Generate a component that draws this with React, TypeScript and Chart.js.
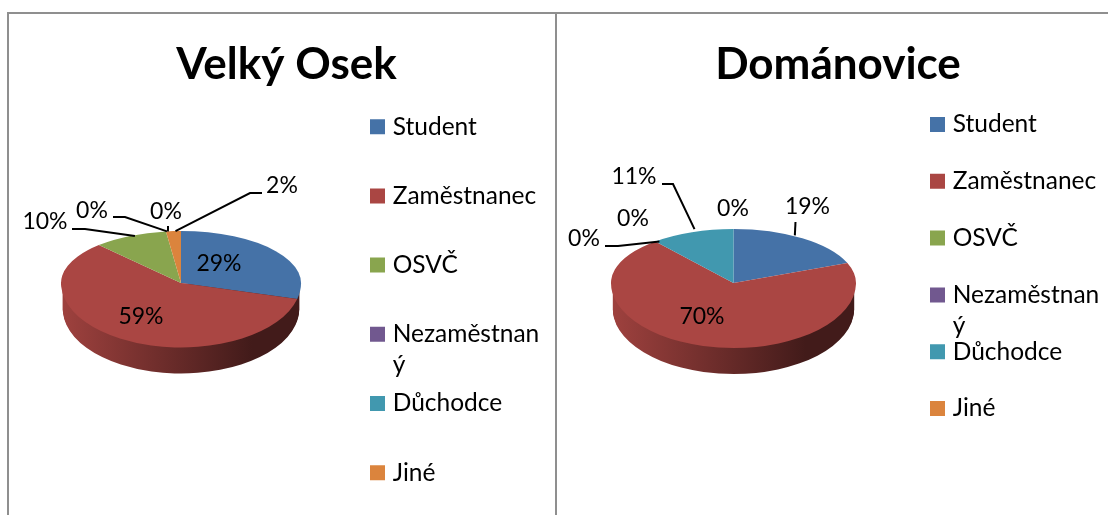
import React, { useEffect, useRef } from "react";
import { Chart, registerables } from "chart.js";

Chart.register(...registerables);

const categories = ["Student", "Zaměstnanec", "OSVČ", "Nezaměstnaný", "Důchodce", "Jiné"];
const velkyOsekValues = [29, 59, 10, 0, 0, 2];
const domanoviceValues = [19, 70, 0, 0, 11, 0];
const sliceColors = ["#4572A7", "#AA4643", "#89A54E", "#71588F", "#4198AF", "#DB843D"];

const FONT = "Lato, Carlito, sans-serif";
const LEGEND_SIZE = 24.5;
const LABEL_SIZE = 23;
const TITLE_SIZE = 44;
const TITLE_MIDDLE = 65;
const WRAP_AT = 11;
const BOX_SLOT = 6;

type Cfg = {
  title: string; values: number[]; canvasLeft: number; canvasWidth: number;
  titleCenter: number; cx: number; cy: number; R: number; upper: number; lower: number; depth: number;
  legendRectCenter: number; legendFirstRow: number; legendPitch: number;
  labels: { x: number; y: number; leader?: number[][]; endOffset?: number[] }[];
};

const panels: Cfg[] = [
  {
    title: "Velký Osek", values: velkyOsekValues, canvasLeft: 0, canvasWidth: 556,
    titleCenter: 286.5, cx: 181, cy: 283, R: 120, upper: 52, lower: 64.5, depth: 26,
    legendRectCenter: 377.5, legendFirstRow: 126.7, legendPitch: 69.2,
    labels: [
      { x: 219, y: 264 },
      { x: 141, y: 317 },
      { x: 45, y: 222, leader: [[72, 229], [85, 229]], endOffset: [5, 0] },
      { x: 92, y: 211, leader: [[113, 217], [125, 217]], endOffset: [1, 0] },
      { x: 166, y: 212, leader: [[168, 226]], endOffset: [2, 0] },
      { x: 282, y: 186, leader: [[262, 193], [250, 193]], endOffset: [2, 0] },
    ],
  },
  {
    title: "Dománovice", values: domanoviceValues, canvasLeft: 556, canvasWidth: 552,
    titleCenter: 282, cx: 177.5, cy: 283, R: 122.5, upper: 54, lower: 65, depth: 26,
    legendRectCenter: 381.5, legendFirstRow: 124.5, legendPitch: 56.8,
    labels: [
      { x: 251.5, y: 207, leader: [[239.5, 222]], endOffset: [-7.5, -3] },
      { x: 146, y: 317 },
      { x: 28, y: 239, leader: [[49, 246], [62, 246]], endOffset: [4, 0] },
      { x: 77, y: 219 },
      { x: 78, y: 177, leader: [[106, 184], [117, 184]], endOffset: [2.5, -3] },
      { x: 177, y: 209 },
    ],
  },
];

function hexShade(hex: string, f: number) {
  const n = parseInt(hex.slice(1), 16);
  const c = [(n >> 16) & 255, (n >> 8) & 255, n & 255].map((v) => Math.round(v * f));
  return `rgb(${c[0]},${c[1]},${c[2]})`;
}

function makePlugin(cfg: Cfg) {
  const { cx, cy, R, upper, lower, depth } = cfg;
  const project = (x: number, y: number) => [x, y < cy ? cy + (y - cy) * (upper / R) : cy + (y - cy) * (lower / R)];
  return {
    id: "tiltedPie",
    afterLayout(chart: any) {
      chart.chartArea = { left: cx - R, right: cx + R, top: cy - R, bottom: cy + R, width: 2 * R, height: 2 * R };
      const t = chart.titleBlock;
      if (t) {
        t.left = cfg.titleCenter - 250; t.right = cfg.titleCenter + 250;
        t.top = TITLE_MIDDLE - (TITLE_SIZE * 1.2) / 2; t.bottom = t.top + TITLE_SIZE * 1.2;
      }
      const l = chart.legend;
      if (l) {
        const pad = l.options.labels.padding;
        l.left = cfg.legendRectCenter - BOX_SLOT / 2 - pad;
        l.right = cfg.canvasWidth;
        l.top = cfg.legendFirstRow - LEGEND_SIZE / 2 - pad;
        l.bottom = 100000;
      }
    },
    beforeDatasetDraw(chart: any) {
      const ctx = chart.ctx;
      const arcs = chart.getDatasetMeta(0).data;
      const drawPart = (arc: any, k: number, dy: number, clipTop: boolean, sx = 1) => {
        ctx.save();
        ctx.beginPath();
        if (clipTop) ctx.rect(0, 0, cfg.canvasWidth, cy + 0.5);
        else ctx.rect(0, cy + dy, cfg.canvasWidth, 515);
        ctx.clip();
        ctx.translate(cx, cy + dy);
        ctx.scale(sx, k);
        ctx.translate(-cx, -cy);
        arc.draw(ctx);
        ctx.restore();
      };
      // side wall, from the library's own arcs; only the large red slice faces the viewer in both pies
      const wallBase = sliceColors[1];
      const g = ctx.createLinearGradient(cx - R, 0, cx + 0.6 * R, 0);
      g.addColorStop(0, hexShade(wallBase, 0.93));
      g.addColorStop(1, hexShade(wallBase, 0.39));
      for (let dy = depth; dy >= 1; dy--) {
        arcs.forEach((arc: any) => {
          if (!arc.circumference) return;
          const keep = arc.options;
          arc.options = { ...keep, backgroundColor: g };
          drawPart(arc, lower / R, dy, false, 0.985);
          arc.options = keep;
        });
      }
      // top face
      arcs.forEach((arc: any) => {
        if (!arc.circumference) return;
        drawPart(arc, upper / R, 0, true);
        drawPart(arc, lower / R, 0, false);
      });
      return false;
    },
    afterDatasetsDraw(chart: any) {
      const ctx = chart.ctx;
      const arcs = chart.getDatasetMeta(0).data;
      ctx.save();
      ctx.fillStyle = "#000";
      ctx.strokeStyle = "#000";
      ctx.lineWidth = 2;
      ctx.font = `${LABEL_SIZE}px ${FONT}`;
      ctx.textAlign = "center";
      ctx.textBaseline = "middle";
      cfg.values.forEach((v, i) => {
        const lab = cfg.labels[i];
        ctx.fillText(`${v}%`, lab.x, lab.y);
        if (lab.leader) {
          const arc = arcs[i];
          const mid = (arc.startAngle + arc.endAngle) / 2;
          const [ex, ey] = project(arc.x + Math.cos(mid) * R, arc.y + Math.sin(mid) * R);
          const off = lab.endOffset || [0, 0];
          ctx.beginPath();
          lab.leader.forEach((p, j) => (j ? ctx.lineTo(p[0], p[1]) : ctx.moveTo(p[0], p[1])));
          ctx.lineTo(ex + off[0], ey + off[1]);
          ctx.stroke();
        }
      });
      ctx.restore();
    },
    afterDraw(chart: any) {
      const ctx = chart.ctx;
      ctx.save();
      ctx.fillStyle = "#000";
      ctx.font = `${LEGEND_SIZE}px ${FONT}`;
      ctx.textAlign = "left";
      ctx.textBaseline = "middle";
      categories.forEach((c, i) => {
        if (c.length > WRAP_AT) {
          const x = cfg.legendRectCenter - BOX_SLOT / 2 + BOX_SLOT + LEGEND_SIZE / 2;
          ctx.fillText(c.slice(WRAP_AT), x, cfg.legendFirstRow + i * cfg.legendPitch + 31);
        }
      });
      ctx.restore();
    },
  };
}

function PieChart({ cfg }: { cfg: Cfg }) {
  const ref = useRef<HTMLCanvasElement>(null);
  useEffect(() => {
    const chart = new Chart(ref.current as HTMLCanvasElement, {
      type: "pie",
      data: {
        labels: categories,
        datasets: [{ data: cfg.values, backgroundColor: sliceColors, borderWidth: 0 }],
      },
      options: {
        responsive: false,
        animation: false,
        plugins: {
          tooltip: { enabled: false },
          title: {
            display: true,
            text: cfg.title,
            color: "#000",
            padding: 0,
            font: { family: FONT, size: TITLE_SIZE, weight: "bold", lineHeight: 1.2 },
          },
          legend: {
            position: "right",
            align: "start",
            labels: {
              usePointStyle: true,
              boxWidth: BOX_SLOT,
              boxHeight: 15,
              padding: cfg.legendPitch - LEGEND_SIZE,
              color: "#000",
              font: { family: FONT, size: LEGEND_SIZE },
              generateLabels: () =>
                categories.map((c, i) => ({
                  text: c.slice(0, WRAP_AT),
                  fillStyle: sliceColors[i],
                  strokeStyle: sliceColors[i],
                  lineWidth: 0,
                  pointStyle: "rect",
                  index: i,
                  hidden: false,
                })),
            },
          },
        },
      } as any,
      plugins: [makePlugin(cfg)],
    });
    return () => chart.destroy();
  }, [cfg]);
  return (
    <canvas
      ref={ref}
      width={cfg.canvasWidth}
      height={515}
      style={{ position: "absolute", left: cfg.canvasLeft, top: 0, width: cfg.canvasWidth, height: 515 }}
    />
  );
}

const rule = (s: React.CSSProperties): React.CSSProperties => ({ position: "absolute", background: "#8f8f8f", ...s });

export default function App() {
  return (
    <div style={{ position: "fixed", left: 0, top: 0, width: 1108, height: 515, overflow: "hidden", background: "#fff" }}>
      {panels.map((p) => (
        <PieChart key={p.title} cfg={p} />
      ))}
      <div style={rule({ left: 7, top: 12, width: 1101, height: 2 })} />
      <div style={rule({ left: 7, top: 12, width: 2, height: 503 })} />
      <div style={rule({ left: 555, top: 12, width: 2, height: 503 })} />
    </div>
  );
}
